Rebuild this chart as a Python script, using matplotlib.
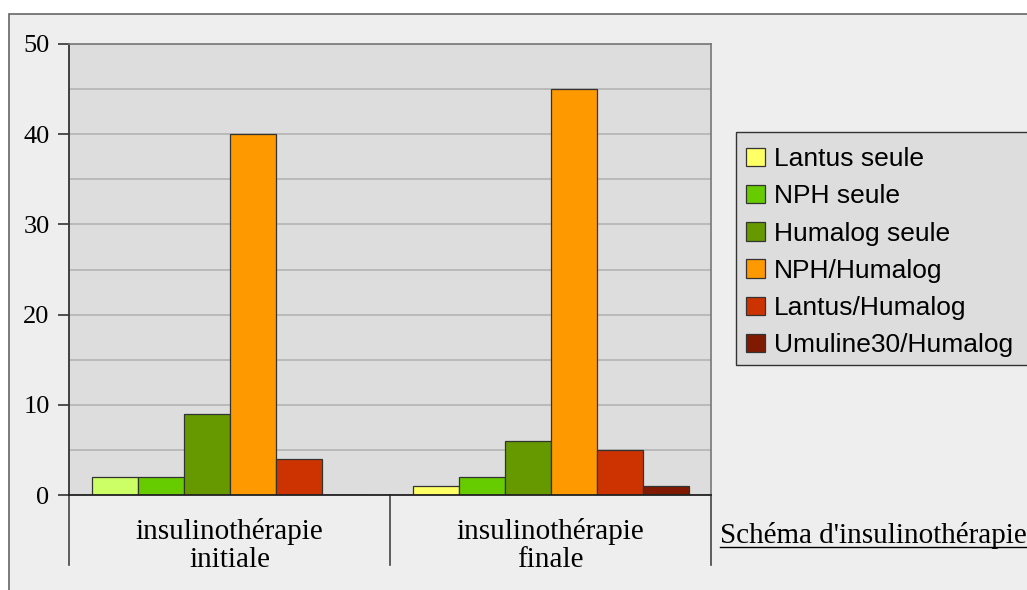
import matplotlib
matplotlib.use("Agg")
import matplotlib.pyplot as plt
from matplotlib.patches import Rectangle, Patch
import matplotlib.transforms as mtransforms
import numpy as np

# ---- data ----
categories = ["insulinothérapie\ninitiale", "insulinothérapie\nfinale"]
series_names = ["Lantus seule", "NPH seule", "Humalog seule",
                "NPH/Humalog", "Lantus/Humalog", "Umuline30/Humalog"]
lantus_seule = [2, 1]
nph_seule = [2, 2]
humalog_seule = [9, 6]
nph_humalog = [40, 45]
lantus_humalog = [4, 5]
umuline30_humalog = [0, 1]
y_ticks = [0, 10, 20, 30, 40, 50]
axis_title = "Schéma d'insulinothérapie"

series_values = [lantus_seule, nph_seule, humalog_seule,
                 nph_humalog, lantus_humalog, umuline30_humalog]
# per-category colours (first series differs between categories in the source)
series_colors = [["#CCFF66", "#FFFF66"], ["#66CC00", "#66CC00"],
                 ["#669900", "#669900"], ["#FF9900", "#FF9900"],
                 ["#CC3300", "#CC3300"], ["#7F1A00", "#7F1A00"]]
legend_colors = ["#FFFF66", "#66CC00", "#669900", "#FF9900", "#CC3300", "#7F1A00"]

W, H = 1027, 590
fig = plt.figure(figsize=(W / 100, H / 100), dpi=100)
fig.patch.set_facecolor("white")

# outer chart frame (left/top edges visible)
fig.patches.append(Rectangle((9 / W, -0.2), 1.2, 1 - 14 / H + 0.2,
                             transform=fig.transFigure, facecolor="#EEEEEE",
                             edgecolor="#666666", linewidth=1.2, zorder=-5))

ax_l, ax_r, ax_t, ax_b = 69, 711, 44, 495
ax = fig.add_axes([ax_l / W, 1 - ax_b / H, (ax_r - ax_l) / W, (ax_b - ax_t) / H])
ax.set_zorder(2)
ax.set_facecolor("#DDDDDD")

serif = ["Liberation Serif", "DejaVu Serif"]
sans = ["Liberation Sans", "DejaVu Sans"]

x = np.arange(len(categories))
n = len(series_values)
bw = 46 / 321
for i, (vals, cols) in enumerate(zip(series_values, series_colors)):
    ax.bar(x + (i - (n - 1) / 2) * bw, vals, width=bw, color=cols,
           edgecolor="#333333", linewidth=0.9, zorder=3)

ax.set_xlim(-0.5, len(categories) - 0.5)
ax.set_ylim(0, 50)
ax.set_yticks(y_ticks)
ax.set_yticklabels([str(t) for t in y_ticks], fontfamily=serif, fontsize=19)
ax.set_yticks(np.arange(0, 51, 5), minor=True)
ax.tick_params(axis="y", which="major", direction="out", length=8, width=1.2,
               color="#333333", pad=6)
ax.tick_params(axis="y", which="minor", length=0)
ax.grid(axis="y", which="both", color="#B3B3B3", linewidth=1.2, zorder=1)
ax.set_axisbelow(True)
ax.set_xticks([])

for s in ["top", "right"]:
    ax.spines[s].set_color("#777777")
    ax.spines[s].set_linewidth(1.2)
ax.spines["left"].set_color("#333333")
ax.spines["left"].set_linewidth(1.3)
ax.spines["bottom"].set_color("#222222")
ax.spines["bottom"].set_linewidth(1.3)
ax.spines["bottom"].set_zorder(4)

# category separators below the axis
trans = mtransforms.blended_transform_factory(ax.transData, ax.transAxes)
sep_depth = (565 - ax_b) / (ax_b - ax_t)
for xs in np.arange(len(categories) + 1) - 0.5:
    ax.plot([xs, xs], [0, -sep_depth], transform=trans, color="#444444",
            linewidth=1.2, clip_on=False, zorder=2)

# category labels
for xi, lab in zip(x, categories):
    ax.text(xi, -(518 - ax_b) / (ax_b - ax_t), lab, transform=trans,
            ha="center", va="top", fontfamily=serif, fontsize=21,
            linespacing=1.12, color="black")

# axis title (underlined)
t = fig.text(720 / W, 1 - 543 / H, axis_title, ha="left", va="baseline",
             fontfamily=serif, fontsize=21, color="black")
fig.canvas.draw()
bb = t.get_window_extent(renderer=fig.canvas.get_renderer())
uy = 1 - 547 / H
fig.lines.append(plt.Line2D([bb.x0 / W, bb.x1 / W], [uy, uy],
                            transform=fig.transFigure, color="black",
                            linewidth=1.0))

# legend box
fig.patches.append(Rectangle((736 / W, 1 - 365 / H), 0.5, (365 - 132) / H,
                             transform=fig.transFigure, facecolor="#DDDDDD",
                             edgecolor="#333333", linewidth=1.0, zorder=1))
handles = [Patch(facecolor=c, edgecolor="#333333", linewidth=0.9)
           for c in legend_colors]
leg = fig.legend(handles, series_names, loc="upper left",
                 bbox_to_anchor=(741 / W, 1 - 142 / H), frameon=False,
                 prop={"family": sans, "size": 19},
                 handlelength=0.7, handleheight=0.7, handletextpad=0.35,
                 labelspacing=0.5, borderpad=0.2, borderaxespad=0)
leg.set_zorder(5)

fig.savefig("out.png", dpi=100, facecolor=fig.get_facecolor())
